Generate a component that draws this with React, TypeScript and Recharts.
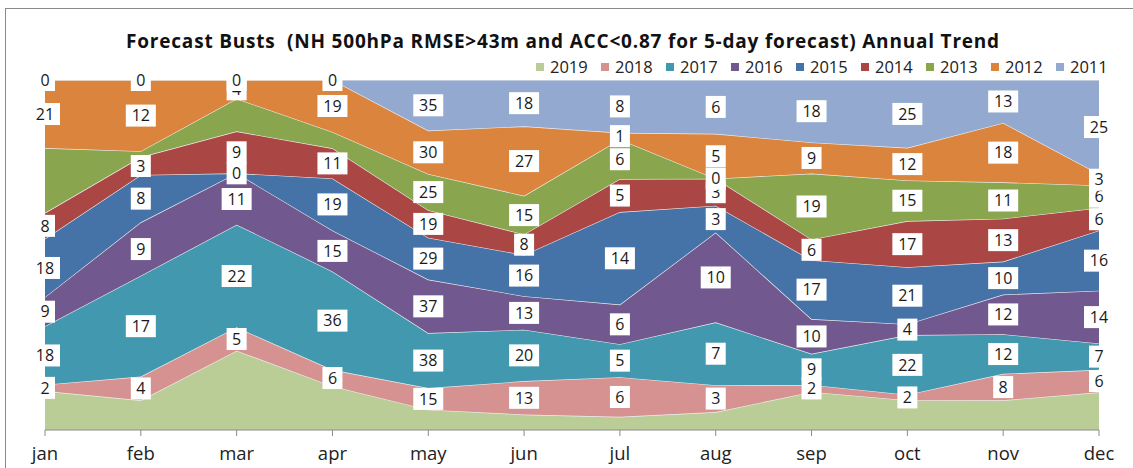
import React from 'react';
import { ComposedChart, Area, Line, XAxis, YAxis, LabelList } from 'recharts';

// ---- data ----
const months = ['jan', 'feb', 'mar', 'apr', 'may', 'jun', 'jul', 'aug', 'sep', 'oct', 'nov', 'dec'];
const years = ['2019', '2018', '2017', '2016', '2015', '2014', '2013', '2012', '2011'];

const v2019 = [12, 5, 17, 16, 14, 6, 2, 2, 11, 11, 9, 10];
const v2018 = [2, 4, 5, 6, 15, 13, 6, 3, 2, 2, 8, 6];
const v2017 = [18, 17, 22, 36, 38, 20, 5, 7, 9, 22, 12, 7];
const v2016 = [9, 9, 11, 15, 37, 13, 6, 10, 10, 4, 12, 14];
const v2015 = [18, 8, 0, 19, 29, 16, 14, 3, 17, 21, 10, 16];
const v2014 = [8, 3, 9, 11, 19, 8, 5, 3, 6, 17, 13, 6];
const v2013 = [20, 1, 7, 6, 25, 15, 6, 0, 19, 15, 11, 6];
const v2012 = [21, 12, 4, 19, 30, 27, 1, 5, 9, 12, 18, 3];
const v2011 = [0, 0, 0, 0, 35, 18, 8, 6, 18, 25, 13, 25];

// months whose value labels are not shown
const unlabelledMonths: Record<string, string[]> = {
  '2019': months,
  '2013': ['jan', 'feb', 'mar', 'apr'],
};

const title = 'Forecast Busts  (NH 500hPa RMSE>43m and ACC<0.87 for 5-day forecast) Annual Trend';

// ---- styles ----
const seriesColors: Record<string, string> = {
  '2019': '#bacd96',
  '2018': '#d69290',
  '2017': '#4198af',
  '2016': '#71588f',
  '2015': '#4572a7',
  '2014': '#aa4643',
  '2013': '#89a54e',
  '2012': '#db843d',
  '2011': '#93a9cf',
};

const FONT = '"Open Sans", "DejaVu Sans", sans-serif';

const valuesByYear: Record<string, number[]> = {
  '2019': v2019, '2018': v2018, '2017': v2017, '2016': v2016, '2015': v2015,
  '2014': v2014, '2013': v2013, '2012': v2012, '2011': v2011,
};

// 100% stacked table plus mid-band positions for labels
const table = months.map((m, i) => {
  const total = years.reduce((s, y) => s + valuesByYear[y][i], 0);
  const row: Record<string, any> = { month: m };
  let cum = 0;
  years.forEach((y) => {
    const v = valuesByYear[y][i];
    row['p' + y] = (v / total) * 100;
    row['m' + y] = ((cum + v / 2) / total) * 100;
    cum += v;
  });
  return row;
});

const makeLabel = (year: string) => (props: any) => {
  const index = props.index;
  const x = props.x ?? props.viewBox?.x;
  const y = props.y ?? props.viewBox?.y;
  if (index == null || x == null || y == null) return null;
  const hidden = unlabelledMonths[year] || [];
  if (hidden.includes(months[index])) return null;
  const text = String(valuesByYear[year][index]);
  const w = text.length * 10 + 10;
  const h = 22;
  return (
    <g key={`lbl-${year}-${index}`}>
      <rect x={x - w / 2} y={y - h / 2} width={w} height={h} fill="#ffffff" />
      <text x={x} y={y} dy="0.36em" textAnchor="middle" fontSize={16} fontFamily={FONT} fill="#1a1a1a">
        {text}
      </text>
    </g>
  );
};

export default function App() {
  return (
    <div style={{ position: 'absolute', left: 0, top: 0, width: 1133, height: 468, background: '#fff', overflow: 'hidden' }}>
      <div style={{ position: 'absolute', left: 5, top: 8, width: 1140, height: 470, borderLeft: '1px solid #8a8a8a', borderTop: '1px solid #8a8a8a' }} />
      <div
        style={{
          position: 'absolute', left: 0, width: 1126, top: 28, textAlign: 'center', lineHeight: '26px',
          fontFamily: FONT, fontWeight: 700, fontSize: 19, letterSpacing: 0.8, color: '#111', whiteSpace: 'pre',
        }}
      >
        {title}
      </div>
      <div style={{ position: 'absolute', top: 55, left: 536, display: 'flex', fontFamily: FONT, fontSize: 16.5, color: '#222' }}>
        {years.map((y) => (
          <div key={y} style={{ display: 'flex', alignItems: 'center', width: 65 }}>
            <span style={{ display: 'inline-block', width: 8, height: 8, background: seriesColors[y], marginRight: 6 }} />
            <span>{y}</span>
          </div>
        ))}
      </div>
      <div style={{ position: 'absolute', left: 0, top: 0 }}>
        <ComposedChart width={1133} height={468} data={table} margin={{ top: 80, right: 34, bottom: 8, left: 45 }}>
          <XAxis
            dataKey="month"
            height={30}
            axisLine={{ stroke: '#8a8a8a' }}
            tickLine={{ stroke: '#8a8a8a' }}
            tickSize={6}
            tickMargin={11}
            interval={0}
            tick={{ fontSize: 18.5, fontFamily: FONT, fill: '#222' }}
          />
          <YAxis hide type="number" domain={[0, 100]} allowDataOverflow />
          {years.map((y) => (
            <Area
              key={'a' + y}
              type="linear"
              dataKey={'p' + y}
              stackId="s"
              fill={seriesColors[y]}
              fillOpacity={1}
              stroke="#eeeeee"
              strokeWidth={1.2}
              isAnimationActive={false}
              dot={false}
              activeDot={false}
            />
          ))}
          {years.map((y) => (
            <Line
              key={'l' + y}
              type="linear"
              dataKey={'m' + y}
              stroke="none"
              dot={false}
              activeDot={false}
              legendType="none"
              isAnimationActive={false}
            >
              <LabelList dataKey={'m' + y} content={makeLabel(y)} />
            </Line>
          ))}
        </ComposedChart>
      </div>
    </div>
  );
}
